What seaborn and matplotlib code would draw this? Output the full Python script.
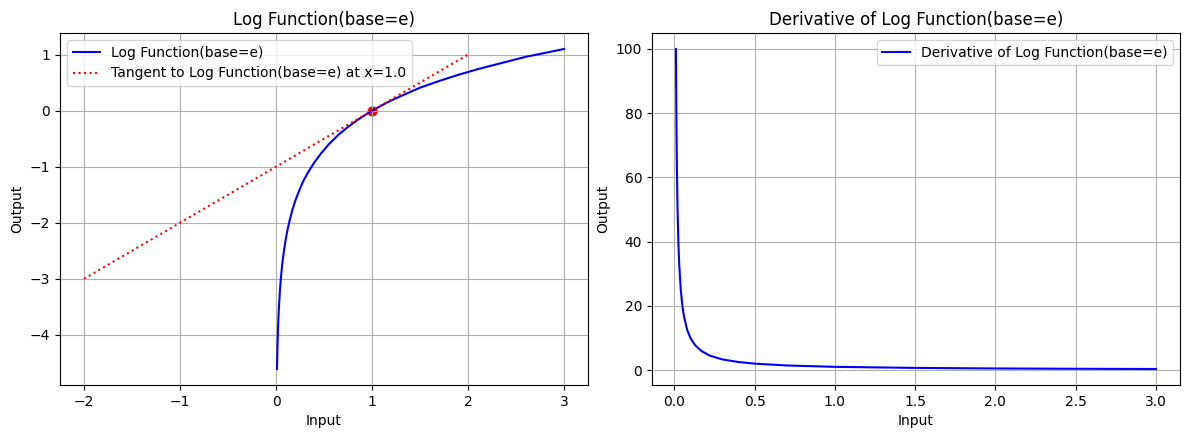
import matplotlib
matplotlib.use("Agg")
import matplotlib.pyplot as plt
import seaborn as sns

# values
log_x = [0.01, 0.012, 0.015, 0.02, 0.025, 0.03, 0.04, 0.05, 0.06, 0.07, 0.085, 0.1, 0.12,
         0.14, 0.17, 0.2, 0.24, 0.28, 0.33, 0.4, 0.47, 0.55, 0.65, 0.75, 0.87, 1.0,
         1.15, 1.3, 1.5, 1.7, 1.9, 2.1, 2.35, 2.6, 2.8, 3.0]
log_y = [-4.61, -4.42, -4.20, -3.91, -3.69, -3.51, -3.22, -3.00, -2.81, -2.66, -2.47, -2.30, -2.12,
         -1.97, -1.77, -1.61, -1.43, -1.27, -1.11, -0.92, -0.76, -0.60, -0.43, -0.29, -0.14, 0.0,
         0.14, 0.26, 0.41, 0.53, 0.64, 0.74, 0.85, 0.96, 1.03, 1.10]

tangent_x = [-2.0, 2.0]
tangent_y = [-3.0, 1.0]
point_x = [1.0]
point_y = [0.0]

der_x = [0.01, 0.011, 0.012, 0.014, 0.016, 0.02, 0.025, 0.03, 0.04, 0.05, 0.06, 0.08,
         0.1, 0.13, 0.17, 0.22, 0.3, 0.4, 0.5, 0.7, 1.0, 1.5, 2.0, 2.5, 3.0]
der_y = [100, 90.9, 83.3, 71.4, 62.5, 50, 40, 33.3, 25, 20, 16.7, 12.5,
         10, 7.7, 5.9, 4.5, 3.3, 2.5, 2.0, 1.43, 1.0, 0.67, 0.5, 0.4, 0.33]

fig, axes = plt.subplots(1, 2, figsize=(11.89, 4.4), dpi=100)

# left: log function with tangent
ax = axes[0]
sns.lineplot(x=log_x, y=log_y, color="blue", label="Log Function(base=e)", ax=ax, sort=False)
ax.plot(tangent_x, tangent_y, color="red", linestyle=":",
        label="Tangent to Log Function(base=e) at x=1.0")
ax.scatter(point_x, point_y, color="red", s=40, zorder=1)
ax.set_title("Log Function(base=e)")
ax.set_xlabel("Input")
ax.set_ylabel("Output")
ax.set_xticks([-2, -1, 0, 1, 2, 3])
ax.grid(True)
ax.legend(loc="upper left")

# right: derivative
ax = axes[1]
sns.lineplot(x=der_x, y=der_y, color="blue", label="Derivative of Log Function(base=e)", ax=ax, sort=False)
ax.set_title("Derivative of Log Function(base=e)")
ax.set_xlabel("Input")
ax.set_ylabel("Output")
ax.grid(True)
ax.legend(loc="upper right")

plt.subplots_adjust(left=0.0505, right=0.9924, top=0.925, bottom=0.125, wspace=0.121)
plt.savefig("out.png", dpi=100)
